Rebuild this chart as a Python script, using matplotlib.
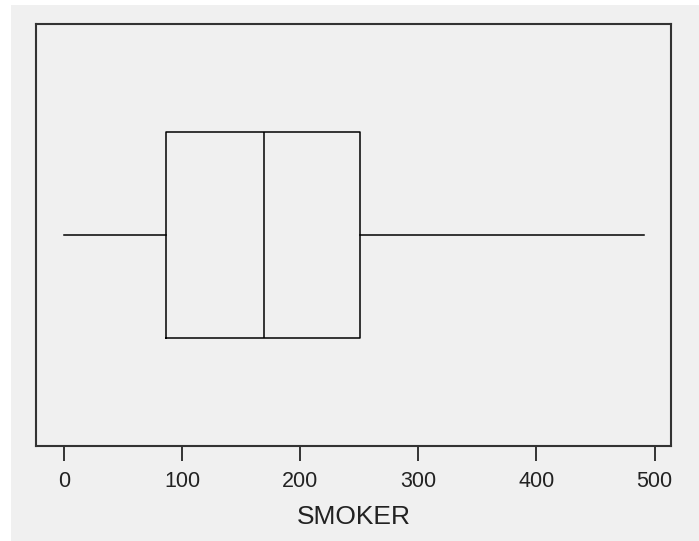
import matplotlib
matplotlib.use("Agg")
import matplotlib.pyplot as plt
from matplotlib.patches import Rectangle

# Box plot summary statistics
label = "SMOKER"
stat_min = 0
stat_q1 = 86
stat_median = 169
stat_q3 = 251
stat_max = 491
xticks = [0, 100, 200, 300, 400, 500]

plt.rcParams['font.family'] = ['Liberation Sans', 'DejaVu Sans']

W, H = 699, 541
fig = plt.figure(figsize=(W / 100, H / 100), dpi=100)
fig.patch.set_facecolor('white')
bg = '#f0f0f0'
fig.patches.append(Rectangle((11 / W, 0), 1 - 11 / W, (H - 5) / H,
                             transform=fig.transFigure, facecolor=bg,
                             edgecolor='none', zorder=-10))

ax = fig.add_axes([36 / W, (H - 446) / H, (671 - 36) / W, (446 - 24) / H])
ax.set_facecolor(bg)

stats = [dict(label=label, whislo=stat_min, q1=stat_q1, med=stat_median,
              q3=stat_q3, whishi=stat_max, fliers=[])]
lw = 1.1
ax.bxp(stats, positions=[0.5], widths=[0.488], orientation='horizontal',
       showcaps=False, showfliers=False,
       boxprops=dict(color='black', linewidth=lw),
       medianprops=dict(color='black', linewidth=lw),
       whiskerprops=dict(color='black', linewidth=lw))

ax.set_ylim(0, 1)
ax.set_xlim(-23.7, 513.9)
ax.set_yticks([])
ax.set_xticks(xticks)
ax.set_xticklabels([str(t) for t in xticks])
ax.tick_params(axis='x', length=10.8, width=1.4, color='#333333',
               pad=7.5, labelsize=15.5, labelcolor='#222222')
for s in ax.spines.values():
    s.set_color('#333333')
    s.set_linewidth(1.5)
ax.set_xlabel(label, fontsize=19, color='#222222', labelpad=9)

fig.savefig('out.png', dpi=100, facecolor=fig.get_facecolor())
